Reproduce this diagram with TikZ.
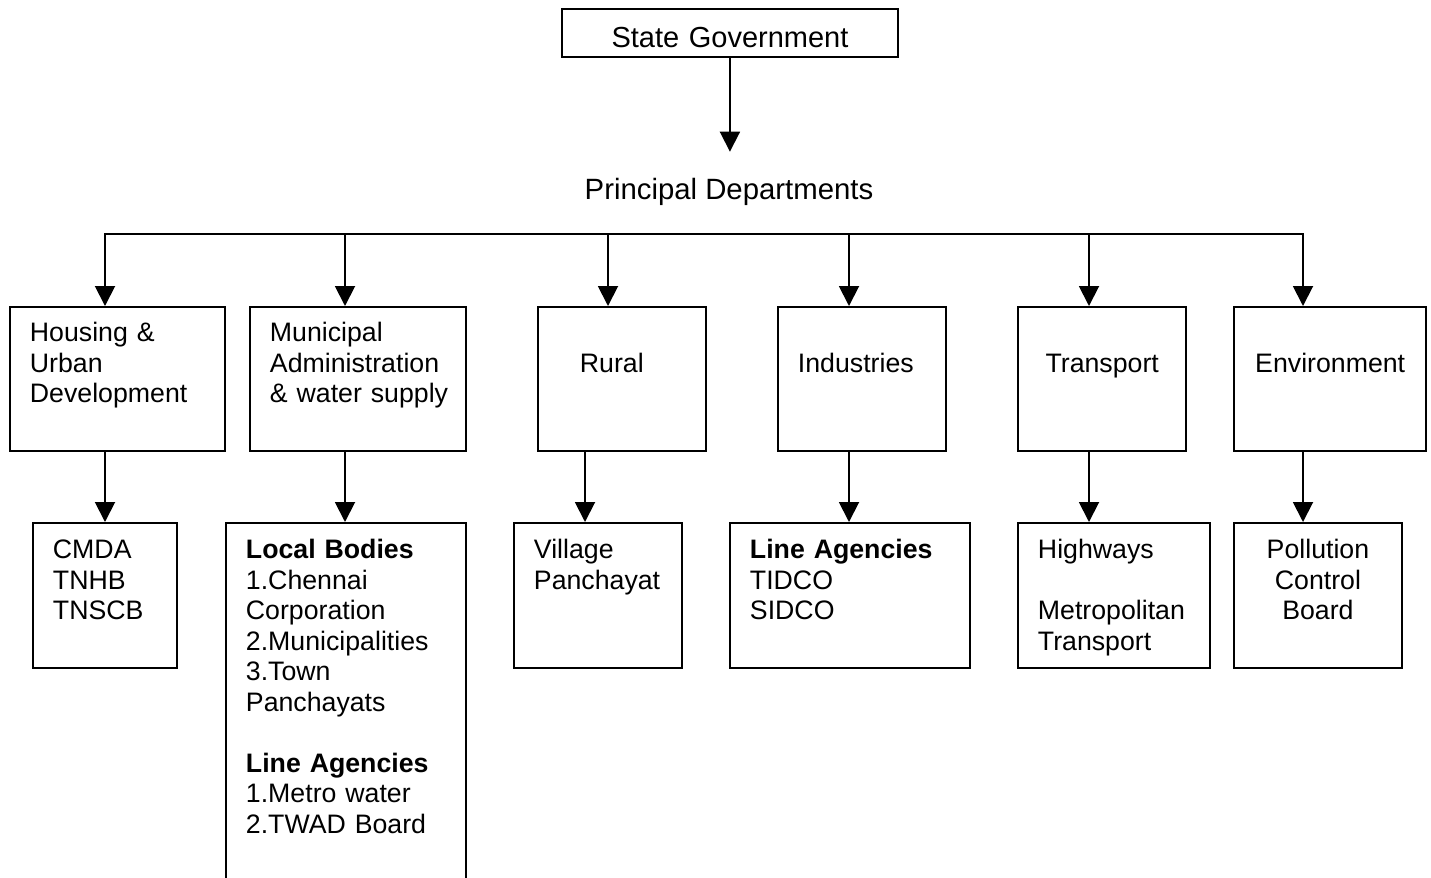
\documentclass[tikz,border=0pt]{standalone}
\usepackage{fontspec}
\setmainfont{Liberation Sans}
\usetikzlibrary{arrows.meta}

\newcommand{\boxfont}{\fontsize{15.2}{17.36}\selectfont}
\newcommand{\headfont}{\fontsize{16.5}{19}\selectfont}

\begin{document}
\begin{tikzpicture}[x=0.02cm, y=-0.02cm,
                    box/.style={draw, line width=1.1pt, anchor=north west, inner ysep=0pt, align=left, font=\boxfont},
                    top/.style={box, text height=0.70cm, text depth=2.18cm},
                    mid/.style={box, text height=1.32cm, text depth=1.56cm},
                    low/.style={box, text height=0.72cm, text depth=2.18cm},
                    arr/.style={line width=1.1pt, -{Triangle[width=0.4cm, length=0.4cm]}}]

                    \useasboundingbox (0,0) rectangle (1431,877);
                    \clip (0,0) rectangle (1431,877);

                    % Define nodes
                    \node[draw, line width=1.1pt, anchor=north west, inner sep=0pt, text width=6.72cm, align=center,
                          text height=0.77cm, text depth=0.19cm, font=\headfont] (sg) at (561,8) {State Government}; % Root node
                    \node[anchor=base, inner sep=0pt, text height=0.94cm, font=\fontsize{16.7}{19}\selectfont] (pd) at (729,199) {Principal Departments};

                    % Departments
                    \node[top, text width=3.51cm, inner xsep=0.40cm] (hud) at (9,306) {\mbox{Housing \&}\\Urban\\Development};
                    \node[top, text width=3.53cm, inner xsep=0.40cm] (mun) at (249,306) {Municipal\\Administration\\\mbox{\& water supply}};
                    \node[mid, text width=1.68cm, inner xsep=0.84cm] (rur) at (537,306) {Rural};
                    \node[mid, text width=2.57cm, inner xsep=0.40cm] (ind) at (777,306) {Industries};
                    \node[mid, text width=2.97cm, inner xsep=0.20cm, align=center] (tra) at (1017,306) {Transport};
                    \node[mid, text width=3.45cm, inner xsep=0.20cm, align=center] (env) at (1233,306) {Environment};

                    % Agencies under each department
                    \node[low, text width=2.09cm, inner xsep=0.40cm] (cmda) at (32,522) {CMDA\\TNHB\\TNSCB};
                    \node[low, text width=4.00cm, inner xsep=0.40cm, text depth=8cm] (local) at (225,522)
                         {\textbf{Local Bodies}\\1.Chennai\\Corporation\\2.Municipalities\\3.Town\\Panchayats\\[\baselineskip]
                          \textbf{Line Agencies}\\1.Metro water\\2.TWAD Board};
                    \node[low, text width=2.56cm, inner xsep=0.40cm] (vil) at (513,522) {Village\\Panchayat};
                    \node[low, text width=4.01cm, inner xsep=0.40cm] (lineag) at (729,522) {\textbf{Line Agencies}\\TIDCO\\SIDCO};
                    \node[low, text width=3.04cm, inner xsep=0.40cm] (hwy) at (1017,522) {Highways\\[\baselineskip]Metropolitan\\Transport};
                    \node[low, text width=2.96cm, inner xsep=0.20cm, align=center] (pcb) at (1233,522) {Pollution\\Control\\Board};

                    % Define edges
                    \foreach \n/\x in {1/105,2/345,3/608,4/849,5/1089,6/1303}
                        \coordinate (t\n) at (\x,234);
                    \foreach \n/\x in {1/105,2/345,3/585,4/849,5/1089,6/1303}
                        \coordinate (s\n) at (\x,450);

                    \draw[arr] (sg.south) -- (sg.south |- pd.north);
                    \draw[line width=1.1pt, line cap=rect] (t1) -- (t6);
                    \foreach \n/\d in {1/hud,2/mun,3/rur,4/ind,5/tra,6/env}
                        \draw[arr] (t\n) -- (t\n |- \d.north);
                    \foreach \n/\u/\d in {1/hud/cmda,2/mun/local,3/rur/vil,4/ind/lineag,5/tra/hwy,6/env/pcb}
                        \draw[arr] (\u.south -| s\n) -- (\d.north -| s\n);
                \end{tikzpicture}
\end{document}
